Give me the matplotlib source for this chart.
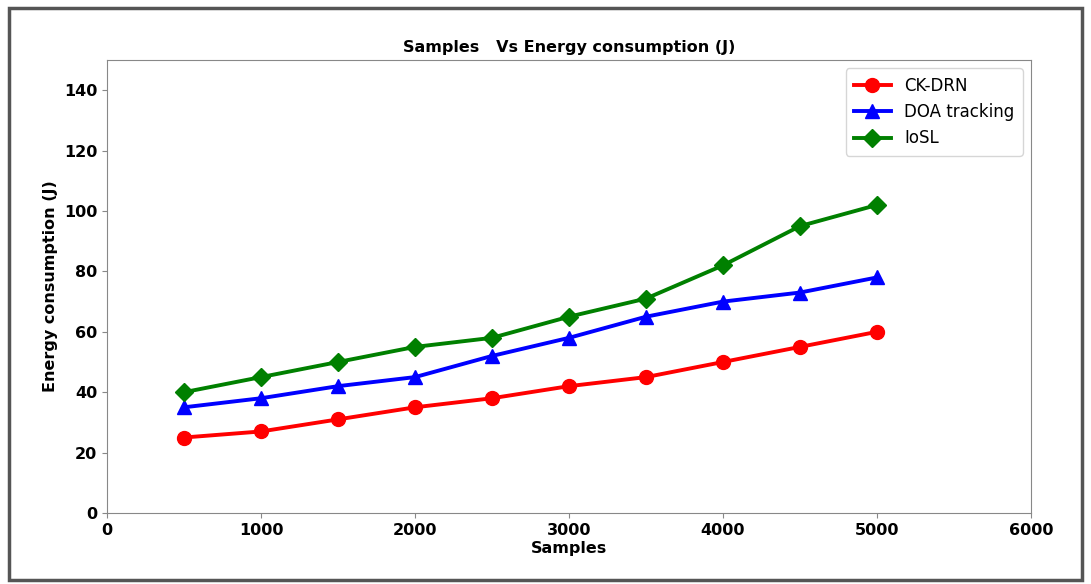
import matplotlib
matplotlib.use("Agg")
import matplotlib.pyplot as plt
from matplotlib.patches import Rectangle

samples = [500, 1000, 1500, 2000, 2500, 3000, 3500, 4000, 4500, 5000]
ck_drn = [25, 27, 31, 35, 38, 42, 45, 50, 55, 60]
doa_tracking = [35, 38, 42, 45, 52, 58, 65, 70, 73, 78]
iosl = [40, 45, 50, 55, 58, 65, 71, 82, 95, 102]
x_ticks = [0, 1000, 2000, 3000, 4000, 5000, 6000]
y_ticks = [0, 20, 40, 60, 80, 100, 120, 140]

fig = plt.figure(figsize=(10.91, 5.84), dpi=100)
ax = fig.add_axes([107/1091, 1-513/584, (1031-107)/1091, (513-60)/584])

ax.plot(samples, ck_drn, color="red", marker="o", lw=2.8, ms=10, label="CK-DRN")
ax.plot(samples, doa_tracking, color="blue", marker="^", lw=2.8, ms=10, label="DOA tracking")
ax.plot(samples, iosl, color="green", marker="D", lw=2.8, ms=9, label="IoSL")

ax.set_xlim(0, 6000)
ax.set_ylim(0, 150)
ax.set_xticks(x_ticks)
ax.set_yticks(y_ticks)
for lbl in ax.get_xticklabels() + ax.get_yticklabels():
    lbl.set_fontweight("bold")
    lbl.set_fontsize(11.5)
ax.set_xlabel("Samples", fontsize=11.5, fontweight="bold", labelpad=2)
ax.set_ylabel("Energy consumption (J)", fontsize=11.5, fontweight="bold")
ax.set_title("Samples   Vs Energy consumption (J)", fontsize=11.5, fontweight="bold", pad=6)
for s in ax.spines.values():
    s.set_color("#888888")
ax.tick_params(color="#888888")
ax.legend(loc="upper right", fontsize=12, handlelength=2.2, borderpad=0.5)

fig.patches.append(Rectangle((9/1091, 4/584), (1082-9)/1091, (580-8)/584,
                             transform=fig.transFigure, fill=False,
                             edgecolor="#555555", lw=2.5))
fig.savefig("out.png", dpi=100)
